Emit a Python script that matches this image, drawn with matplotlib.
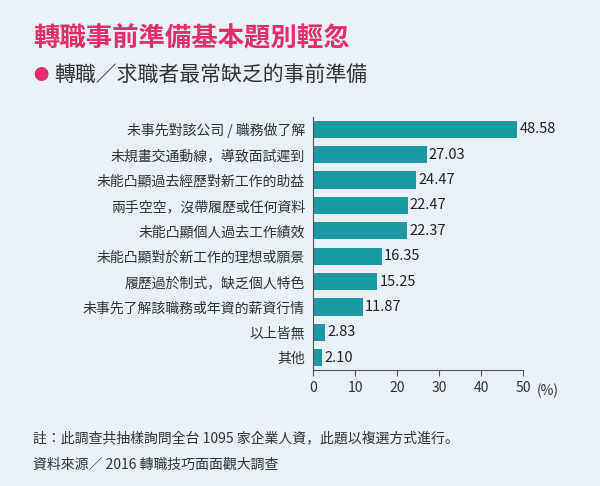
import matplotlib
matplotlib.use("Agg")
import matplotlib.pyplot as plt

plt.rcParams['font.family'] = ['Noto Sans CJK TC', 'Noto Sans CJK JP', 'Noto Sans CJK SC', 'Noto Sans CJK KR', 'DejaVu Sans']

categories = ["未事先對該公司 / 職務做了解", "未規畫交通動線，導致面試遲到", "未能凸顯過去經歷對新工作的助益",
              "兩手空空，沒帶履歷或任何資料", "未能凸顯個人過去工作績效", "未能凸顯對於新工作的理想或願景",
              "履歷過於制式，缺乏個人特色", "未事先了解該職務或年資的薪資行情", "以上皆無", "其他"]
values = [48.58, 27.03, 24.47, 22.47, 22.37, 16.35, 15.25, 11.87, 2.83, 2.10]
xticks = [0, 10, 20, 30, 40, 50]

bg = "#e9f1f6"
fig = plt.figure(figsize=(6, 4.86), dpi=100, facecolor=bg)
ax = fig.add_axes([0.522, 0.238, 0.35, 0.522], facecolor=bg)
y = list(range(len(categories)))
ax.barh(y, values, height=0.68, color="#1b9aa6")
ax.set_ylim(len(categories) - 0.5, -0.5)
ax.set_xlim(0, 50)
ax.set_yticks(y)
ax.set_yticklabels(categories, fontsize=10, color="#333333")
ax.set_xticks(xticks)
ax.set_xticklabels([str(t) for t in xticks], fontsize=10, color="#333333")
for i, v in enumerate(values):
    ax.text(v + 0.5, i, f"{v:.2f}", va="center", ha="left", fontsize=10.5, color="#222222")
ax.tick_params(axis='y', length=0, pad=6)
ax.tick_params(axis='x', length=4, color="#555555")
for s in ["top", "right"]:
    ax.spines[s].set_visible(False)
ax.spines["left"].set_color("#555555")
ax.spines["bottom"].set_color("#555555")
fig.text(0.895, 0.238 - 0.043, "(%)", fontsize=10, color="#333333", ha="left", va="center")

fig.text(0.055, 0.92, "轉職事前準備基本題別輕忽", fontsize=19, fontweight="bold", color="#e0306a", va="center")
fig.text(0.055, 0.845, "●", fontsize=11, color="#e0306a", va="center")
fig.text(0.09, 0.845, "轉職／求職者最常缺乏的事前準備", fontsize=15, color="#333333", va="center")
fig.text(0.055, 0.098, "註：此調查共抽樣詢問全台 1095 家企業人資，此題以複選方式進行。", fontsize=10, color="#333333", va="center")
fig.text(0.055, 0.043, "資料來源／ 2016 轉職技巧面面觀大調查", fontsize=10, color="#333333", va="center")

fig.savefig("out.png", dpi=100, facecolor=bg)
